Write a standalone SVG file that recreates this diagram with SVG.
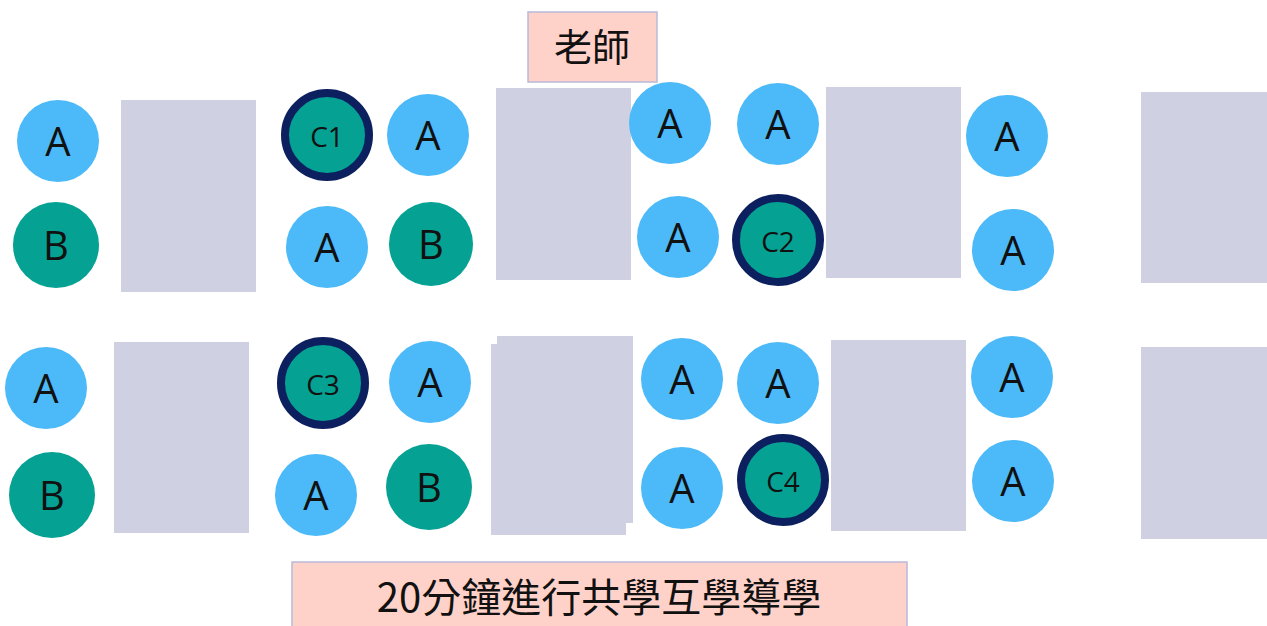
<svg xmlns="http://www.w3.org/2000/svg" width="1267" height="626" viewBox="0 0 1267 626">
<style>
.t{fill:#cfd1e2}
.a{fill:#4cbaf8}
.b{fill:#05a193}
.c{fill:#05a193;stroke:#0c1f5e;stroke-width:8}
.l{font-family:"Open Sans","Noto Sans",sans-serif;font-size:40px;fill:#111;text-anchor:middle}
.s{font-family:"Open Sans","Noto Sans",sans-serif;font-size:28px;fill:#111;text-anchor:middle}
.box{fill:#ffd2c9;stroke:#b9b9d9;stroke-width:1.5}
.cj{font-family:"Noto Sans CJK TC","Noto Sans CJK SC",sans-serif;fill:#111;text-anchor:middle}
</style>
<rect width="1267" height="626" fill="#fff"/>
<g id="tables">
<rect class="t" x="121" y="100" width="135" height="192"/>
<rect class="t" x="496" y="88" width="135" height="192"/>
<rect class="t" x="826" y="87" width="135" height="191"/>
<rect class="t" x="1141" y="92" width="126" height="191"/>
<rect class="t" x="114" y="342" width="135" height="191"/>
<rect class="t" x="497" y="336" width="136" height="187"/>
<rect class="t" x="491" y="344" width="135" height="191"/>
<rect class="t" x="831" y="340" width="135" height="191"/>
<rect class="t" x="1141" y="347" width="126" height="192"/>
</g>
<g id="teacher"><rect class="box" x="528" y="12" width="129" height="70"/><text class="cj" x="592" y="61" font-size="38">老師</text></g>
<g id="n1"><circle class="a" cx="58" cy="141" r="41"/><text class="l" x="58" y="156">A</text></g>
<g id="n2"><circle class="b" cx="56" cy="245" r="43"/><text class="l" x="56" y="260">B</text></g>
<g id="n3"><circle class="c" cx="327" cy="135" r="42"/><text class="s" x="327" y="147">C1</text></g>
<g id="n4"><circle class="a" cx="428" cy="135" r="41"/><text class="l" x="428" y="150">A</text></g>
<g id="n5"><circle class="a" cx="327" cy="247" r="41"/><text class="l" x="327" y="262">A</text></g>
<g id="n6"><circle class="b" cx="431" cy="244" r="42"/><text class="l" x="431" y="259">B</text></g>
<g id="n7"><circle class="a" cx="670" cy="123" r="41"/><text class="l" x="670" y="138">A</text></g>
<g id="n8"><circle class="a" cx="778" cy="124" r="41"/><text class="l" x="778" y="139">A</text></g>
<g id="n9"><circle class="a" cx="678" cy="237" r="41"/><text class="l" x="678" y="252">A</text></g>
<g id="n10"><circle class="c" cx="778" cy="240" r="42"/><text class="s" x="778" y="252">C2</text></g>
<g id="n11"><circle class="a" cx="1007" cy="136" r="41"/><text class="l" x="1007" y="151">A</text></g>
<g id="n12"><circle class="a" cx="1013" cy="250" r="41"/><text class="l" x="1013" y="265">A</text></g>
<g id="n13"><circle class="a" cx="46" cy="388" r="41"/><text class="l" x="46" y="403">A</text></g>
<g id="n14"><circle class="b" cx="52" cy="495" r="43"/><text class="l" x="52" y="510">B</text></g>
<g id="n15"><circle class="c" cx="323" cy="383" r="42"/><text class="s" x="323" y="395">C3</text></g>
<g id="n16"><circle class="a" cx="430" cy="382" r="41"/><text class="l" x="430" y="397">A</text></g>
<g id="n17"><circle class="a" cx="316" cy="495" r="41"/><text class="l" x="316" y="510">A</text></g>
<g id="n18"><circle class="b" cx="429" cy="487" r="43"/><text class="l" x="429" y="502">B</text></g>
<g id="n19"><circle class="a" cx="682" cy="379" r="41"/><text class="l" x="682" y="394">A</text></g>
<g id="n20"><circle class="a" cx="778" cy="383" r="41"/><text class="l" x="778" y="398">A</text></g>
<g id="n21"><circle class="a" cx="682" cy="488" r="41"/><text class="l" x="682" y="503">A</text></g>
<g id="n22"><circle class="c" cx="783" cy="480" r="42"/><text class="s" x="783" y="492">C4</text></g>
<g id="n23"><circle class="a" cx="1012" cy="377" r="41"/><text class="l" x="1012" y="392">A</text></g>
<g id="n24"><circle class="a" cx="1013" cy="481" r="41"/><text class="l" x="1013" y="496">A</text></g>
<g id="caption"><rect class="box" x="292" y="562" width="615" height="70"/><text class="cj" x="599" y="612" font-size="40">20分鐘進行共學互學導學</text></g>
<g id="connectors"/>
</svg>
